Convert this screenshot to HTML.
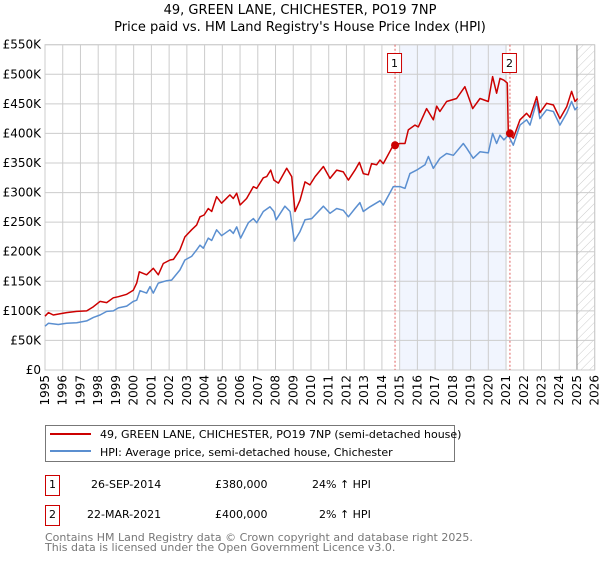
<!DOCTYPE html>
<html><head><meta charset="utf-8"><style>
body{margin:0;background:#fff;font-family:"DejaVu Sans","Liberation Sans",sans-serif;}
svg text{font-family:"DejaVu Sans","Liberation Sans",sans-serif;}
</style></head><body>
<svg id="chart" width="600" height="560" viewBox="0 0 600 560" xmlns="http://www.w3.org/2000/svg">
<defs><pattern id="hatch" width="6" height="6" patternUnits="userSpaceOnUse" patternTransform="rotate(45)"><line x1="0" y1="0" x2="0" y2="6" stroke="#ccc" stroke-width="1"/></pattern></defs>
<text x="300" y="14" text-anchor="middle" font-size="13" fill="#000">49, GREEN LANE, CHICHESTER, PO19 7NP</text>
<text x="300" y="31" text-anchor="middle" font-size="13" fill="#000">Price paid vs. HM Land Registry's House Price Index (HPI)</text>
<g id="plot"></g>
<g>
<rect x="45.5" y="425.5" width="409" height="36" fill="#fff" stroke="#777"/>
<line x1="50" y1="434" x2="91" y2="434" stroke="#cc0000" stroke-width="2"/>
<text x="100" y="438" font-size="11">49, GREEN LANE, CHICHESTER, PO19 7NP (semi-detached house)</text>
<line x1="50" y1="451" x2="91" y2="451" stroke="#5b8fd0" stroke-width="2"/>
<text x="100" y="456" font-size="11">HPI: Average price, semi-detached house, Chichester</text>
</g>
<g font-size="11">
<rect x="45.5" y="475.5" width="14" height="20" fill="#fff" stroke="#c00"/>
<text x="52.5" y="488" text-anchor="middle">1</text>
<text x="91" y="488">26-SEP-2014</text><text x="215" y="488">£380,000</text><text x="312" y="488">24% ↑ HPI</text>
<rect x="45.5" y="505.5" width="14" height="20" fill="#fff" stroke="#c00"/>
<text x="52.5" y="518" text-anchor="middle">2</text>
<text x="87" y="518">22-MAR-2021</text><text x="215" y="518">£400,000</text><text x="319" y="518">2% ↑ HPI</text>
</g>
<text x="45" y="541" font-size="11" fill="#777">Contains HM Land Registry data © Crown copyright and database right 2025.</text>
<text x="45" y="551" font-size="11" fill="#777">This data is licensed under the Open Government Licence v3.0.</text>
</svg>
<script>
const hpiYears=[1995.00,1995.19,1995.75,1996.22,1996.79,1997.35,1997.73,1998.10,1998.48,1998.85,1999.14,1999.61,1999.98,2000.17,2000.36,2000.73,2000.92,2001.11,2001.39,2001.86,2002.14,2002.61,2002.89,2003.27,2003.55,2003.74,2003.93,2004.21,2004.40,2004.68,2004.96,2005.43,2005.62,2005.81,2006.03,2006.47,2006.75,2006.94,2007.31,2007.69,2007.91,2008.03,2008.53,2008.82,2009.06,2009.38,2009.66,2010.04,2010.70,2011.07,2011.45,2011.82,2012.11,2012.48,2012.76,2012.95,2013.33,2013.89,2014.08,2014.64,2015.02,2015.30,2015.58,2015.96,2016.43,2016.62,2016.90,2017.27,2017.65,2018.03,2018.59,2018.78,2019.15,2019.53,2020.00,2020.24,2020.47,2020.66,2020.88,2021.13,2021.41,2021.79,2022.16,2022.35,2022.73,2022.91,2023.29,2023.67,2024.04,2024.42,2024.70,2024.89,2025.04];
const hpiValues=[74,79,77,79,80,83,89,93,99,100,105,108,116,118,134,130,141,130,147,151,152,169,186,192,203,211,206,223,219,237,227,237,231,242,223,249,256,249,268,276,268,254,277,268,218,234,254,256,277,265,273,270,259,273,283,268,276,286,279,310,310,307,332,338,347,361,341,358,366,363,383,375,358,369,367,400,383,397,389,397,380,414,423,414,454,425,440,437,414,434,454,440,445];
const priceYears=[1995.00,1995.19,1995.47,1995.85,1996.22,1996.79,1997.35,1997.73,1998.10,1998.48,1998.85,1999.14,1999.61,1999.98,2000.17,2000.32,2000.73,2001.11,2001.39,2001.67,2002.05,2002.24,2002.61,2002.89,2003.27,2003.55,2003.74,2003.97,2004.21,2004.40,2004.68,2004.96,2005.43,2005.62,2005.81,2006.00,2006.37,2006.75,2006.94,2007.31,2007.50,2007.73,2007.91,2008.16,2008.63,2008.91,2009.10,2009.38,2009.66,2009.94,2010.23,2010.70,2011.07,2011.45,2011.82,2012.11,2012.48,2012.73,2012.95,2013.23,2013.42,2013.70,2013.89,2014.08,2014.64,2015.02,2015.30,2015.49,2015.86,2016.05,2016.52,2016.90,2017.09,2017.27,2017.65,2018.21,2018.68,2019.12,2019.53,2020.00,2020.24,2020.47,2020.66,2020.88,2021.07,2021.13,2021.41,2021.79,2022.16,2022.35,2022.73,2022.91,2023.29,2023.67,2024.04,2024.42,2024.70,2024.89,2025.04];
const priceValues=[91,97,93,95,97,99,100,107,116,114,122,124,128,135,147,166,161,172,161,180,186,187,203,225,237,245,259,262,273,268,293,282,296,290,299,279,290,310,307,325,327,338,321,316,341,327,268,287,318,313,327,344,324,338,335,321,338,351,332,330,349,347,355,349,380,383,383,406,414,411,442,423,446,437,454,459,479,442,459,454,496,468,493,490,485,400,392,423,434,427,462,435,451,448,425,445,471,454,459];
const saleYears=[2014.74,2021.22];
const saleValues=[380,400];
const saleLabels=["1","2"];
const yTicks=[0,50,100,150,200,250,300,350,400,450,500,550];
const yTickLabels=["£0","£50K","£100K","£150K","£200K","£250K","£300K","£350K","£400K","£450K","£500K","£550K"];
const xTicks=[1995,1996,1997,1998,1999,2000,2001,2002,2003,2004,2005,2006,2007,2008,2009,2010,2011,2012,2013,2014,2015,2016,2017,2018,2019,2020,2021,2022,2023,2024,2025,2026];
const shadeRange=[2015,2021];
const forecastStart=2025;

const L=45,R=594.7,T=44.7,B=370,X0=1995,X1=2026,YMAX=550;
const sx=y=>L+(y-X0)/(X1-X0)*(R-L);
const sy=v=>B-v/YMAX*(B-T);
const NS="http://www.w3.org/2000/svg";
const g=document.getElementById('plot');
function mk(tag,attrs){const e=document.createElementNS(NS,tag);for(const k in attrs)e.setAttribute(k,attrs[k]);g.appendChild(e);return e;}
let e;
e=mk('rect',{x:sx(shadeRange[0]),y:T,width:sx(shadeRange[1])-sx(shadeRange[0]),height:B-T,fill:'#f1f5fe'});


e=mk('rect',{x:sx(forecastStart),y:T,width:R-sx(forecastStart),height:B-T,fill:'url(#hatch)'});


xTicks.forEach(t=>{
 e=mk('line',{x1:sx(t),x2:sx(t),y1:T,y2:B,stroke:'#ccc','stroke-width':1});
 
 
 e=mk('text',{transform:`translate(${sx(t)+4},${B+5}) rotate(-90)`,'text-anchor':'end','font-size':12,fill:'#000'});
 e.textContent=t;
 
 
});
yTicks.forEach((t,i)=>{
 e=mk('line',{x1:L,x2:R,y1:sy(t),y2:sy(t),stroke:'#ccc','stroke-width':1});
 
 
 e=mk('text',{x:L-4,y:sy(t)+4,'text-anchor':'end','font-size':12,fill:'#000'});
 e.textContent=yTickLabels[i];
 
 
});
e=mk('line',{x1:sx(forecastStart),x2:sx(forecastStart),y1:T,y2:B,stroke:'#888','stroke-width':1});


e=mk('rect',{x:L,y:T,width:R-L,height:B-T,fill:'none',stroke:'#ccc'});


saleYears.forEach((y,i)=>{
 e=mk('line',{x1:sx(y),x2:sx(y),y1:T,y2:B,stroke:'#e06060','stroke-width':1,'stroke-dasharray':'2,2'});
 
 
});
function path(xs,vs,color,name){
 const d=xs.map((x,i)=>(i?'L':'M')+sx(x).toFixed(1)+','+sy(vs[i]).toFixed(1)).join('');
 const p=mk('path',{d:d,fill:'none',stroke:color,'stroke-width':1.5,'stroke-linejoin':'round'});
 return p;
}
e=path(hpiYears,hpiValues,'#5b8fd0');


e=path(priceYears,priceValues,'#cc0000');


saleYears.forEach((y,i)=>{
 e=mk('circle',{cx:sx(y),cy:sy(saleValues[i]),r:4,fill:'#cc0000'});
 
 
 e=mk('rect',{x:sx(y)-7.5,y:53.5,width:14,height:19,fill:'#fff',stroke:'#c00'});
 
 
 e=mk('text',{x:sx(y)-0.5,y:67,'text-anchor':'middle','font-size':11,fill:'#000'});
 e.textContent=saleLabels[i];
 
 
});
</script>
</body></html>
